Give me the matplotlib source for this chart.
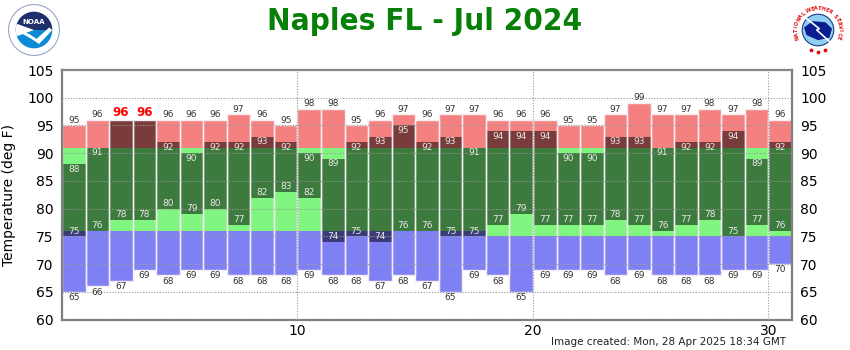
import numpy as np
import matplotlib
matplotlib.use('Agg')
import matplotlib.pyplot as plt
from matplotlib.patches import Rectangle, Circle, Wedge, Polygon

# July 2024 daily values, Naples FL
days = list(range(1, 32))
rec_high = [95, 96, 96, 96, 96, 96, 96, 97, 96, 95, 98, 98, 95, 96, 97, 96,
            97, 97, 96, 96, 96, 95, 95, 97, 99, 97, 97, 98, 97, 98, 96]
obs_high = [88, 91, 96, 96, 92, 90, 92, 92, 93, 92, 90, 89, 92, 93, 95, 92,
            93, 91, 94, 94, 94, 90, 90, 93, 93, 91, 92, 92, 94, 89, 92]
obs_low = [75, 76, 78, 78, 80, 79, 80, 77, 82, 83, 82, 74, 75, 74, 76, 76,
           75, 75, 77, 79, 77, 77, 77, 78, 77, 76, 77, 78, 75, 77, 76]
rec_low = [65, 66, 67, 69, 68, 69, 69, 68, 68, 68, 69, 68, 68, 67, 68, 67,
           65, 69, 68, 65, 69, 69, 69, 68, 69, 68, 68, 68, 69, 69, 70]
norm_high = [91, 91, 91, 91, 91, 91, 91, 91, 91, 91, 91, 91, 91, 91, 91, 91,
             91, 91, 91, 91, 91, 91, 91, 91, 91, 91, 91, 91, 91, 91, 91]
norm_low = [76, 76, 76, 76, 76, 76, 76, 76, 76, 76, 76, 76, 76, 76, 76, 76,
            76, 76, 75, 75, 75, 75, 75, 75, 75, 75, 75, 75, 75, 75, 75]

c_rec_hi = '#f58080'
c_rec_lo = '#8080f5'
c_norm = '#80f580'
c_obs_hi = '#7a3b3b'
c_obs_mid = '#3d7a3d'
c_obs_lo = '#3b3b7a'
txt_in = '#e8e8e8'
txt_out = '#333333'

W, H = 850, 350
fig = plt.figure(figsize=(W / 100, H / 100), dpi=100)
ax = fig.add_axes([62 / W, 1 - 319.5 / H, 730 / W, 249.5 / H])

for i, d in enumerate(days):
    x = d - 1
    rh, oh, ol, rl = rec_high[i], obs_high[i], obs_low[i], rec_low[i]
    nh, nl = norm_high[i], norm_low[i]
    # record / normal background
    ax.bar(x, nl - rl, bottom=rl, width=1, align='edge', color=c_rec_lo, lw=0, zorder=1)
    ax.bar(x, nh - nl, bottom=nl, width=1, align='edge', color=c_norm, lw=0, zorder=1)
    ax.bar(x, rh - nh, bottom=nh, width=1, align='edge', color=c_rec_hi, lw=0, zorder=1)
    # observed range
    if ol < nl:
        ax.bar(x, min(nl, oh) - ol, bottom=ol, width=1, align='edge', color=c_obs_lo, lw=0, zorder=1.2)
    lo, hi = max(ol, nl), min(oh, nh)
    if hi > lo:
        ax.bar(x, hi - lo, bottom=lo, width=1, align='edge', color=c_obs_mid, lw=0, zorder=1.2)
    if oh > nh:
        ax.bar(x, oh - max(ol, nh), bottom=max(ol, nh), width=1, align='edge', color=c_obs_hi, lw=0, zorder=1.2)
    # outline
    top = max(rh, oh)
    ax.add_patch(Rectangle((x, rl), 1, top - rl, fill=False, ec='#f4eef4', lw=1.0, zorder=1.5))

    # labels
    xc = x + 0.5
    if oh >= rh:
        ax.text(xc, oh + 0.2, str(oh), ha='center', va='bottom', fontsize=8.5,
                fontweight='bold', color='#ff0000', zorder=4)
    else:
        ax.text(xc, rh + 0.15, str(rh), ha='center', va='bottom', fontsize=6.5,
                color=txt_out, zorder=4)
        ax.text(xc, oh - 0.1, str(oh), ha='center', va='top', fontsize=6.5,
                color=txt_in, zorder=4)
    ax.text(xc, ol + 0.15, str(ol), ha='center', va='bottom', fontsize=6.5,
            color=txt_in, zorder=4)
    ax.text(xc, rl - 0.25, str(rl), ha='center', va='top', fontsize=6.5,
            color=txt_out, zorder=4)

ax.set_xlim(0, 31)
ax.set_ylim(60, 105)
ax.set_xticks([10, 20, 30])
ax.set_yticks(np.arange(60, 106, 5))
ax.tick_params(axis='both', length=0, labelsize=10)
ax.tick_params(axis='y', labelright=True, pad=6)
ax.tick_params(axis='x', pad=3)
ax.set_axisbelow(False)
ax.grid(True, color='#999999', ls=(0, (1, 1.5)), lw=0.8)
for sp in ax.spines.values():
    sp.set_color('#808080')
    sp.set_linewidth(1.6)
ax.set_ylabel('Temperature (deg F)', fontsize=10, labelpad=8)

fig.text(0.5, 1 - 22 / H, 'Naples FL - Jul 2024', ha='center', va='center',
         fontsize=22.5, fontweight='bold', color='#078007', fontstretch='condensed')
fig.text(786 / W, 1 - 342 / H, 'Image created: Mon, 28 Apr 2025 18:34 GMT',
         ha='right', va='center', fontsize=7.5, color='#222222')

# NOAA logo (simplified)
la = fig.add_axes([4 / W, 1 - 58 / H, 60 / W, 56 / H])
la.set_xlim(-1.1, 1.1)
la.set_ylim(-1.1, 1.1)
la.set_aspect('equal')
la.axis('off')
la.add_patch(Circle((0, 0), 1.0, fc='white', ec='#9aa6c8', lw=0.8))
la.add_patch(Wedge((0, 0), 0.72, 0, 180, fc='#1f2f6e', lw=0))
la.add_patch(Wedge((0, 0), 0.72, 180, 360, fc='#0b8bd6', lw=0))
la.add_patch(Polygon([[-0.72, 0.0], [-0.2, -0.15], [0.1, -0.35], [0.6, 0.1],
                      [0.72, 0.0], [0.2, -0.55], [-0.1, -0.35]], fc='white', lw=0))
la.add_patch(Wedge((0, 0), 0.72, 160, 200, fc='white', lw=0))
la.text(0, 0.32, 'NOAA', ha='center', va='center', fontsize=5, color='white', fontweight='bold')

# NWS logo (simplified)
lb = fig.add_axes([788 / W, 1 - 58 / H, 60 / W, 56 / H])
lb.set_xlim(-1.1, 1.1)
lb.set_ylim(-1.1, 1.1)
lb.set_aspect('equal')
lb.axis('off')
lb.add_patch(Circle((0, 0), 0.62, fc='#8fd0f2', ec='#1f3a8a', lw=0.8))
lb.add_patch(Polygon([[-0.55, 0.1], [-0.2, 0.35], [0.3, 0.3], [0.55, 0.05],
                      [0.45, -0.3], [0.0, -0.4], [-0.45, -0.2]], fc='#0a1f8f', lw=0))
lb.plot([-0.45, 0.05, -0.05, 0.45], [0.45, 0.05, 0.0, -0.45], color='white', lw=1.2)
word = 'NATIONAL WEATHER SERVICE'
angs = np.linspace(200, -20, len(word))
for ch, a in zip(word, angs):
    r = 0.85
    lb.text(r * np.cos(np.radians(a)), r * np.sin(np.radians(a)), ch, ha='center',
            va='center', fontsize=3.6, color='#e01010', fontweight='bold',
            rotation=a - 90)
for a in [-110, -90, -70]:
    lb.plot(0.85 * np.cos(np.radians(a)), 0.85 * np.sin(np.radians(a)), '*',
            color='#e01010', ms=2.5)

fig.savefig('out.png', dpi=100)
